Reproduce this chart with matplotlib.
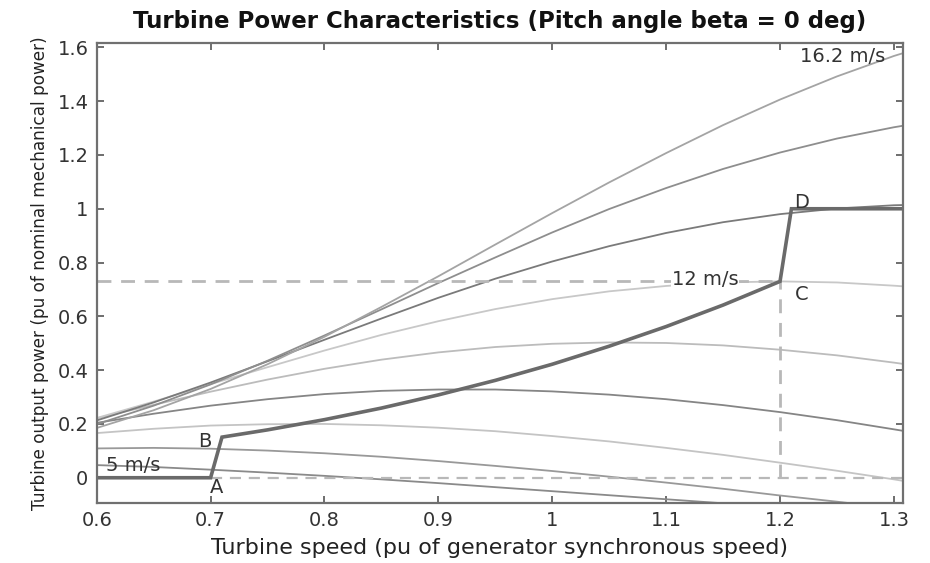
import numpy as np
import matplotlib
matplotlib.use("Agg")
import matplotlib.pyplot as plt

plt.rcParams['font.family'] = ['DejaVu Sans']

# turbine speed (pu)
speed = [0.6, 0.65, 0.7, 0.75, 0.8, 0.85, 0.9, 0.95, 1.0, 1.05, 1.1, 1.15, 1.2, 1.25, 1.3, 1.31]

# power curves (pu) for each wind speed
p_5 = [0.047, 0.040, 0.030, 0.019, 0.007, -0.006, -0.020, -0.035, -0.050, -0.065, -0.080, -0.095, -0.110, -0.125, -0.140, -0.143]
p_6_4 = [0.109, 0.111, 0.108, 0.101, 0.091, 0.078, 0.062, 0.044, 0.025, 0.004, -0.018, -0.041, -0.066, -0.089, -0.114, -0.118]
p_7_8 = [0.166, 0.182, 0.194, 0.199, 0.200, 0.195, 0.186, 0.173, 0.155, 0.135, 0.111, 0.085, 0.056, 0.026, -0.006, -0.013]
p_9_2 = [0.204, 0.238, 0.268, 0.292, 0.311, 0.323, 0.328, 0.328, 0.321, 0.309, 0.292, 0.270, 0.244, 0.214, 0.180, 0.173]
p_10_6 = [0.221, 0.271, 0.320, 0.365, 0.405, 0.439, 0.466, 0.486, 0.498, 0.503, 0.501, 0.492, 0.476, 0.455, 0.428, 0.422]
p_12 = [0.222, 0.283, 0.348, 0.411, 0.473, 0.531, 0.582, 0.627, 0.664, 0.693, 0.713, 0.726, 0.730, 0.726, 0.714, 0.711]
p_13_4 = [0.213, 0.280, 0.354, 0.433, 0.513, 0.592, 0.669, 0.740, 0.804, 0.861, 0.910, 0.950, 0.980, 1.001, 1.013, 1.014]
p_14_8 = [0.199, 0.268, 0.347, 0.435, 0.529, 0.626, 0.724, 0.819, 0.912, 0.999, 1.077, 1.148, 1.209, 1.261, 1.303, 1.310]
p_16_2 = [0.185, 0.251, 0.330, 0.422, 0.524, 0.635, 0.749, 0.867, 0.984, 1.098, 1.207, 1.311, 1.406, 1.492, 1.568, 1.581]

curves = [p_5, p_6_4, p_7_8, p_9_2, p_10_6, p_12, p_13_4, p_14_8, p_16_2]
colores = ['#8a8a8a', '#999999', '#c4c4c4', '#858585', '#bcbcbc',
           '#c8c8c8', '#7a7a7a', '#8e8e8e', '#a4a4a4']

# tracking characteristic A-B-C-D
track_x = [0.6, 0.70, 0.71, 0.75, 0.80, 0.85, 0.90, 0.95, 1.00, 1.05, 1.10, 1.15, 1.20, 1.21, 1.31]
track_y = [0.0, 0.0, 0.151, 0.178, 0.216, 0.259, 0.308, 0.362, 0.422, 0.489, 0.562, 0.642, 0.730, 1.0, 1.0]

fig = plt.figure(figsize=(9.3, 5.63), dpi=100)
ax = fig.add_axes([0.104, 0.107, 0.867, 0.817])

for p, c in zip(curves, colores):
    ax.plot(speed, p, color=c, lw=1.3)

# dashed guide lines
gris = '#b8b8b8'
ax.plot([0.6, 1.2], [0.73, 0.73], color=gris, lw=2.0, ls=(0, (5, 3.5)))
ax.plot([1.2, 1.2], [0.0, 0.73], color=gris, lw=2.0, ls=(0, (5, 3.5)))
ax.plot([0.7, 1.31], [0.0, 0.0], color=gris, lw=1.6, ls=(0, (5, 3.5)))

ax.plot(track_x, track_y, color='#6a6a6a', lw=2.6, solid_joinstyle='miter')

# etiquetas
fs = 14
tc = '#333333'
ax.text(0.608, 0.046, '5 m/s', fontsize=fs, color=tc, va='center', ha='left')
ax.text(1.134, 0.738, '12 m/s', fontsize=fs, color=tc, va='center', ha='center',
        bbox=dict(facecolor='white', edgecolor='none', pad=0.3))
ax.text(1.292, 1.566, '16.2 m/s', fontsize=fs, color=tc, va='center', ha='right')
ax.text(0.705, -0.035, 'A', fontsize=fs, color=tc, va='center', ha='center')
ax.text(0.695, 0.136, 'B', fontsize=fs, color=tc, va='center', ha='center')
ax.text(1.219, 0.68, 'C', fontsize=fs, color=tc, va='center', ha='center')
ax.text(1.219, 1.022, 'D', fontsize=fs, color=tc, va='center', ha='center')

ax.set_xlim(0.6, 1.308)
ax.set_ylim(-0.093, 1.617)
ax.set_xticks([0.6, 0.7, 0.8, 0.9, 1.0, 1.1, 1.2, 1.3])
ax.set_xticklabels(['0.6', '0.7', '0.8', '0.9', '1', '1.1', '1.2', '1.3'])
ax.set_yticks([0, 0.2, 0.4, 0.6, 0.8, 1.0, 1.2, 1.4, 1.6])
ax.set_yticklabels(['0', '0.2', '0.4', '0.6', '0.8', '1', '1.2', '1.4', '1.6'])
ax.tick_params(direction='in', top=True, right=True, length=5, width=1.2,
               color='#555555', labelsize=14, labelcolor=tc, pad=6)
for s in ax.spines.values():
    s.set_color('#707070')
    s.set_linewidth(1.6)

ax.set_xlabel('Turbine speed (pu of generator synchronous speed)', fontsize=16, color='#222222', labelpad=6)
ax.set_ylabel('Turbine output power (pu of nominal mechanical power)', fontsize=12.2, color='#222222', labelpad=6)
ax.set_title('Turbine Power Characteristics (Pitch angle beta = 0 deg)', fontsize=16.5,
             fontweight='bold', color='#111111', pad=11)

fig.savefig('out.png', dpi=100)
